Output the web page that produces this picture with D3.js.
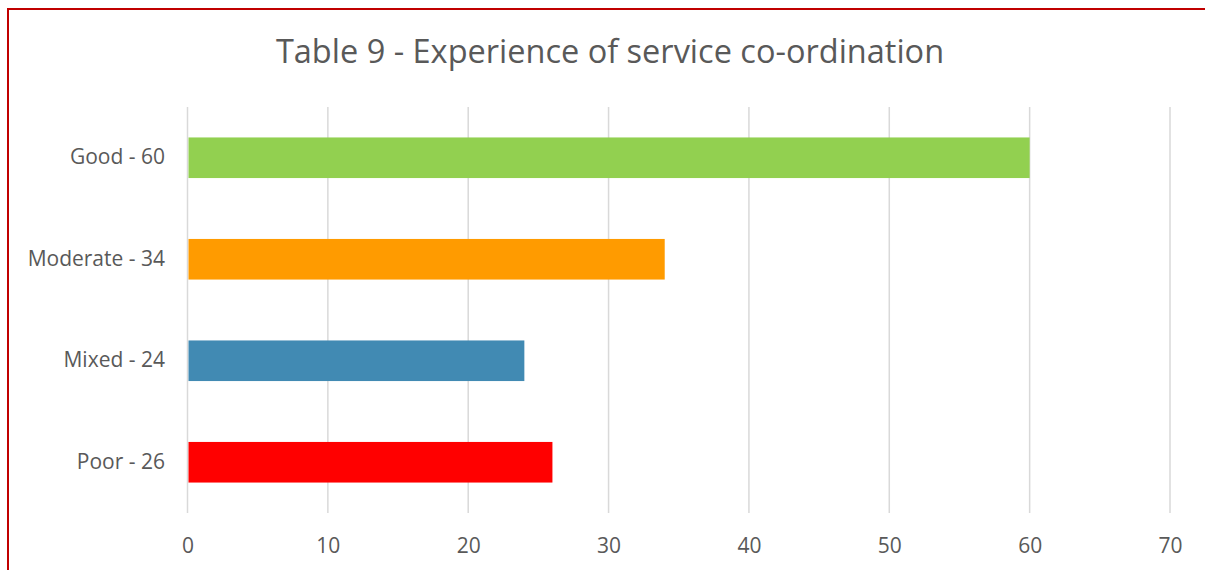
<!DOCTYPE html>
<html>
<head>
<meta charset="utf-8">
<script src="https://cdn.jsdelivr.net/npm/d3@7"></script>
<style>
  html, body { margin: 0; padding: 0; background: #fff; }
  svg { display: block; }
</style>
</head>
<body>
<div id="chart"></div>
<script>
// Survey responses on experience of service co-ordination
const categories = ["Good - 60", "Moderate - 34", "Mixed - 24", "Poor - 26"];
const values = [60, 34, 24, 26];
const barColors = ["#92D050", "#FF9B00", "#418AB3", "#FF0000"];
const tickValues = [0, 10, 20, 30, 40, 50, 60, 70];
const title = "Table 9 - Experience of service co-ordination";

const W = 1205, H = 570;
const margin = { top: 107, right: 35, bottom: 57, left: 187.5 };
const font = "'Open Sans', sans-serif";

const svg = d3.select("#chart").append("svg")
  .attr("width", W).attr("height", H);

// Frame edges
svg.append("line").attr("x1", 8).attr("x2", W).attr("y1", 9).attr("y2", 9)
  .attr("stroke", "#C00000").attr("stroke-width", 2);
svg.append("line").attr("x1", 8).attr("x2", 8).attr("y1", 8).attr("y2", H)
  .attr("stroke", "#C00000").attr("stroke-width", 2);

const x = d3.scaleLinear().domain([0, 70]).range([margin.left, 1170]);
const y = d3.scaleBand().domain(categories)
  .range([margin.top, H - margin.bottom]).paddingInner(0.6).paddingOuter(0.3);

// Vertical gridlines
svg.append("g").selectAll("line").data(tickValues).join("line")
  .attr("x1", d => x(d)).attr("x2", d => x(d))
  .attr("y1", margin.top).attr("y2", H - margin.bottom)
  .attr("stroke", "#D9D9D9").attr("stroke-width", 1.5);

// Bars
svg.append("g").selectAll("rect").data(values).join("rect")
  .attr("x", x(0) + 1)
  .attr("y", (d, i) => y(categories[i]))
  .attr("width", d => x(d) - x(0) - 1)
  .attr("height", y.bandwidth())
  .attr("fill", (d, i) => barColors[i]);

// X axis tick labels
const xAxis = d3.axisBottom(x).tickValues(tickValues).tickSize(0).tickPadding(0);
const gx = svg.append("g").attr("transform", `translate(0, ${H - margin.bottom})`).call(xAxis);
gx.select(".domain").remove();
gx.selectAll("text")
  .attr("dy", null).attr("y", 40)
  .attr("fill", "#595959")
  .style("font-family", font).style("font-size", "21px");

// Category labels
const yAxis = d3.axisLeft(y).tickSize(0).tickPadding(0);
const gy = svg.append("g").attr("transform", `translate(165, 0)`).call(yAxis);
gy.select(".domain").remove();
gy.selectAll("text")
  .attr("fill", "#595959")
  .style("font-family", font).style("font-size", "21px");

// Title
svg.append("text")
  .attr("x", 610).attr("y", 63)
  .attr("text-anchor", "middle")
  .attr("fill", "#595959")
  .style("font-family", font).style("font-size", "32.5px")
  .text(title);
</script>
</body>
</html>
